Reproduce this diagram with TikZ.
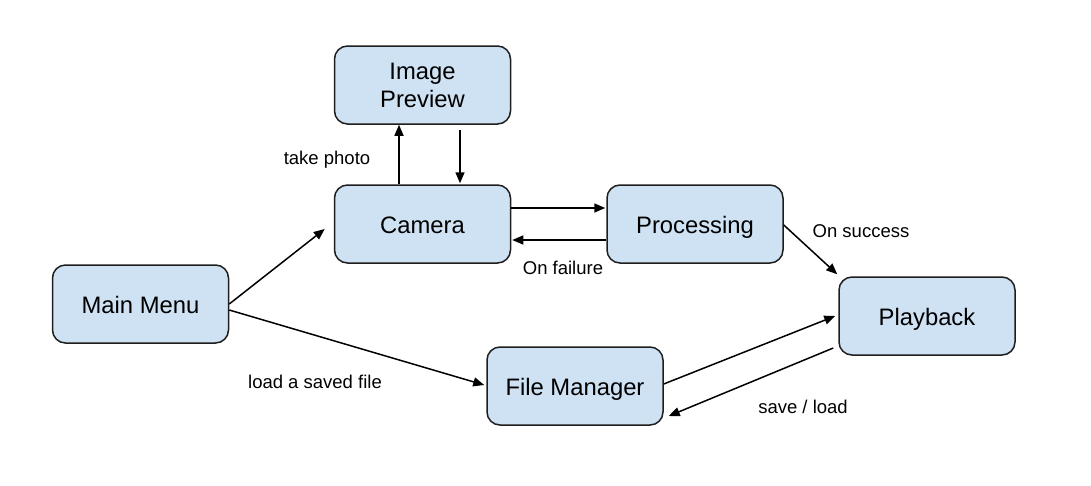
\documentclass[tikz,border=0pt]{standalone}
\usepackage{fontspec}
\setmainfont{Liberation Sans}
\usetikzlibrary{arrows.meta}
\definecolor{boxfill}{HTML}{CFE2F3}
\definecolor{boxline}{HTML}{1E1E1E}
\tikzset{
  state/.style={draw=boxline, fill=boxfill, line width=1.5pt, rounded corners=13pt,
    minimum width=176pt, minimum height=78pt, inner sep=0pt, align=center,
    font=\fontsize{23.8}{28}\selectfont},
  oneline/.style={text height=20pt, text depth=2pt},
  arr/.style={line width=1.5pt, -{Triangle[length=11pt,width=9pt]}},
  lbl/.style={font=\fontsize{18.5}{20}\selectfont, inner sep=0pt}
}
\begin{document}
\begin{tikzpicture}[x=1pt,y=-1pt]
\useasboundingbox (0,0) rectangle (1091,485);
\node[state, text depth=-4pt] (ip) at (422.5,85) {Image\\Preview};
\node[state, oneline] (cam) at (422.5,224) {Camera};
\node[state, oneline] (proc) at (695,224) {Processing};
\node[state, oneline] (mm) at (140.5,304) {Main Menu};
\node[state, oneline] (pb) at (927,316) {Playback};
\node[state, oneline] (fm) at (575,386) {File Manager};

\draw[arr] ([xshift=-23.5pt]cam.north) -- ([xshift=-23.5pt]ip.south);
\draw[arr] ([xshift=37.5pt,yshift=-5pt]ip.south) -- ([xshift=37.5pt,yshift=1pt]cam.north);
\draw[arr] ([yshift=16pt]cam.east) -- ([xshift=-1pt,yshift=16pt]proc.west);
\draw[arr] ([yshift=-16pt]proc.west) -- ([xshift=1pt,yshift=-16pt]cam.east);
\draw[arr] ([yshift=-1pt]proc.east) -- ([xshift=-1pt,yshift=2pt]pb.north west);
\draw[arr] (mm.east) -- ([xshift=-9pt,yshift=-5pt]cam.west);
\draw[arr] ([yshift=-6pt]mm.east) -- ([xshift=-2pt,yshift=1pt]fm.west);
\draw[arr] ([yshift=2pt]fm.east) -- ([xshift=-3pt]pb.west);
\draw[arr] ([xshift=-5pt,yshift=-32pt]pb.west) -- ([xshift=5pt,yshift=-30pt]fm.east);

\node[lbl] (l1) at (327,160) {take photo};
\node[lbl] (l2) at (563,268) {On failure};
\node[lbl] (l3) at (861,231) {On success};
\node[lbl] (l4) at (315,382) {load a saved file};
\node[lbl] (l5) at (803,407) {save / load};
\end{tikzpicture}
\end{document}
